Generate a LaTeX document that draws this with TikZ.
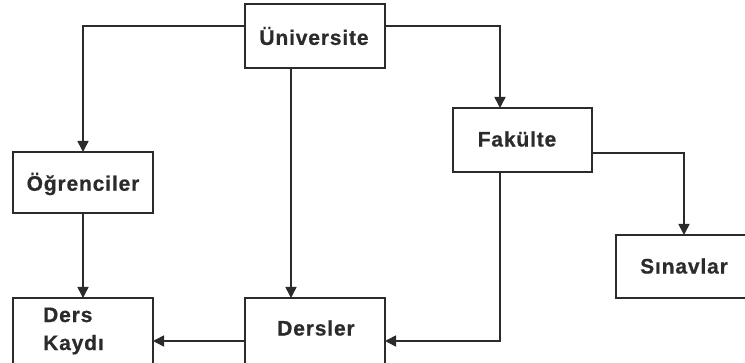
\documentclass[tikz,border=0pt]{standalone}
\usepackage{fontspec}
\setmainfont{Liberation Sans}[LetterSpace=4,BoldFeatures={FakeBold=0.6}]
\usetikzlibrary{arrows.meta}
\definecolor{ink}{HTML}{2B2B2B}
\begin{document}
\begin{tikzpicture}[x=1pt,y=-1pt,
  box/.style={draw=ink,line width=1.6pt,fill=white},
  lbl/.style={font=\fontsize{21}{28}\selectfont\bfseries,text=ink,inner sep=0pt},
  conn/.style={draw=ink,line width=1.6pt,-{Triangle[length=11pt,width=11pt]}}]
\useasboundingbox (0,0) rectangle (745,363);
% boxes
\draw[box] (245,4) rectangle (385,68);
\node[lbl] (uni) at (314,36) {Üniversite};
\coordinate (uniL) at (245,26);
\coordinate (uniR) at (385,26);
\coordinate (uniB) at (291,68);

\draw[box] (453,108) rectangle (592,172);
\node[lbl] (fak) at (517,139) {Fakülte};
\coordinate (fakT) at (500,108);
\coordinate (fakR) at (592,153);
\coordinate (fakB) at (500,172);

\draw[box] (13,152) rectangle (153,213);
\node[lbl] (ogr) at (83,184) {Öğrenciler};
\coordinate (ogrT) at (83,152);
\coordinate (ogrB) at (83,213);

\draw[box] (616,235) rectangle (746,298);
\node[lbl] (sin) at (684,266) {Sınavlar};
\coordinate (sinT) at (684,235);

\draw[box] (13,298) rectangle (153,364);
\node[lbl,align=left,anchor=west] (dk) at (43,331) {Ders\\Kaydı};
\coordinate (dkT) at (83,298);
\coordinate (dkR) at (153,341);

\draw[box] (245,298) rectangle (385,364);
\node[lbl] (der) at (316,328) {Dersler};
\coordinate (derT) at (291,298);
\coordinate (derR) at (385,341);
\coordinate (derL) at (245,341);

% connectors
\draw[conn] (uniL) -| (ogrT);
\draw[conn] (uniR) -| (fakT);
\draw[conn] (uniB) -- (derT);
\draw[conn] (ogrB) -- (dkT);
\draw[conn] (fakR) -| (sinT);
\draw[conn] (fakB) |- (derR);
\draw[conn] (derL) -- (dkR);
\end{tikzpicture}
\end{document}
